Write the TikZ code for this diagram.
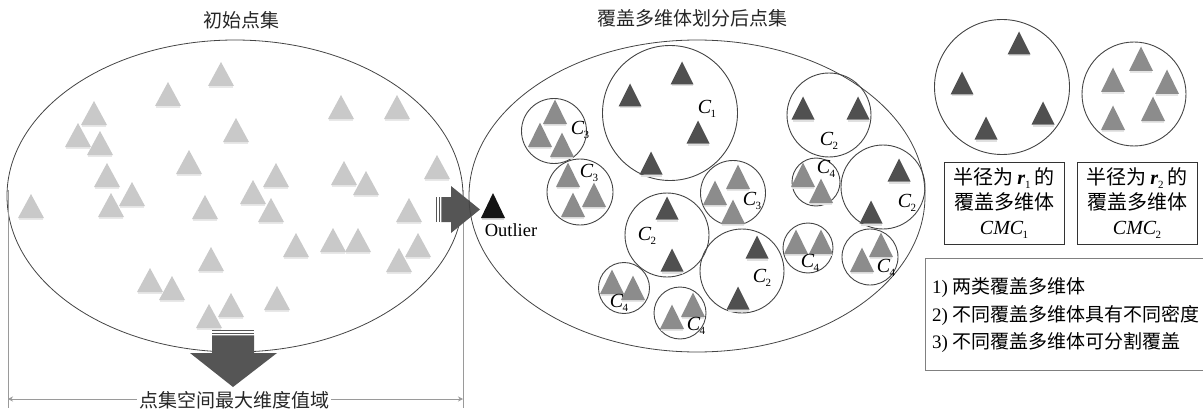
\documentclass[tikz,border=0pt]{standalone}
\usepackage{fontspec}
\setmainfont{Liberation Serif}
\newfontfamily\cjk{Noto Sans CJK SC}
\usetikzlibrary{shapes.geometric,arrows.meta}
\definecolor{ltgray}{HTML}{C9C9C9}
\definecolor{mdgray}{HTML}{8C8C8C}
\definecolor{dkgray}{HTML}{505050}
\definecolor{blockgray}{HTML}{555555}
\definecolor{rimgray}{HTML}{9A9A9A}
\definecolor{edgegray}{HTML}{444444}
\newcommand{\sbs}[1]{\raisebox{-0.4ex}{\fontsize{11}{11}\selectfont #1}}
\newcommand{\clab}[1]{\textit{C}\kern-1pt\sbs{#1}}

\tikzset{
  ltri/.pic={\fill[black!9] (-12,12) rectangle (12,14);
             \fill[ltgray] (-13,12) -- (0,-12) -- (13,12) -- cycle;},
  mtri/.pic={\fill[black!10] (-11,12) rectangle (11,14);
             \fill[mdgray] (-12,12) -- (0,-12.5) -- (12,12) -- cycle;},
  dtri/.pic={\fill[black!12] (-10.5,11.5) rectangle (10.5,13.5);
             \fill[dkgray] (-11.5,11.5) -- (0,-11.5) -- (11.5,11.5) -- cycle;},
  btri/.pic={\fill[black!15] (-11,12.5) rectangle (11,14);
             \fill[black!92] (-12,12.5) -- (0,-12.5) -- (12,12.5) -- cycle;},
  setrim/.style={draw=edgegray, line width=0.8pt, ellipse, inner sep=0pt,
                 minimum width=456pt, minimum height=312pt},
  cmc/.style={draw=edgegray, line width=0.9pt, circle, inner sep=0pt},
  clabel/.style={font=\fontsize{20}{20}\selectfont, inner sep=0pt},
  title/.style={font=\cjk\fontsize{19}{19}\selectfont, text=black!85},
  keybox/.style={draw=black!80, line width=0.8pt, minimum width=120pt,
                 minimum height=82pt, align=center, inner sep=0pt,
                 font=\fontsize{20}{25}\selectfont},
  noteline/.style={anchor=west, inner sep=0pt, font=\fontsize{19}{19}\selectfont},
  dimtip/.tip={Stealth[length=5pt,width=5pt]},
}

\begin{document}
\begin{tikzpicture}[x=1pt,y=-1pt]
\useasboundingbox (0,0) rectangle (1203,412);

% ---------- initial point set ----------
\node[title] (t1) at (241,20) {初始点集};
\node[setrim] (lset) at (235,196) {};
\foreach \px/\py in {221/74,168/94,94/113,78/135,100/143,236/130,189/162,
  107/175,132/194,111/205,31/206,205/207,253/192,276/175,271/210,341/107,
  397/107,344/173,366/183,437/167,409/210,296/245,333/240,358/240,418/245,
  399/260,211/259,150/280,172/288,231/305,209/316,277/298}
  \pic at (\px,\py) {ltri};

% ---------- span of the space ----------
\coordinate (dl) at (8,190);
\coordinate (dr) at (463,190);
\coordinate (dlb) at (8,408);
\coordinate (drb) at (463,408);
\coordinate (al) at (8,399);
\coordinate (ar) at (463,399);
\draw[rimgray, line width=0.8pt] (dl) -- (dlb) (dr) -- (drb);
\draw[rimgray, line width=0.8pt, dimtip-dimtip] (al) -- (ar);
\node[title, fill=white, inner sep=2pt] (span) at (234,400) {点集空间最大维度值域};

% block arrow pointing down
\fill[blockgray] (212,330) rectangle (254,331.3);
\fill[blockgray] (212,332.6) rectangle (254,334);
\fill[blockgray] (212,335.3) -- (254,335.3) -- (254,353) -- (277,353)
   -- (233,387) -- (190,353) -- (212,353) -- cycle;

% block arrow pointing right
\fill[blockgray] (436,197) rectangle (437.3,222);
\fill[blockgray] (438.6,197) rectangle (440,222);
\fill[blockgray] (441.3,197) -- (451,197) -- (451,186) -- (480,209.5)
   -- (451,233) -- (451,222) -- (441.3,222) -- cycle;

% ---------- partitioned point set ----------
\node[title] (t2) at (692,18) {覆盖多维体划分后点集};
\node[setrim] (rset) at (697,196) {};
\pic at (493,205.5) {btri};
\node[font=\fontsize{18.5}{18.5}\selectfont, inner sep=0pt] (out) at (511,230) {Outlier};

\node[cmc, minimum size=65pt] (a1) at (554,131) {};
\node[cmc, minimum size=66pt] (a2) at (580,192) {};
\node[cmc, minimum size=135pt] (b1) at (670,113) {};
\node[cmc, minimum size=84pt] (b2) at (829,115) {};
\node[cmc, minimum size=48pt] (a3) at (816,182) {};
\node[cmc, minimum size=84pt] (b3) at (883,187) {};
\node[cmc, minimum size=65pt] (a4) at (733,193) {};
\node[cmc, minimum size=84pt] (b4) at (667,235) {};
\node[cmc, minimum size=84pt] (b5) at (742,271) {};
\node[cmc, minimum size=50pt] (a5) at (808,248) {};
\node[cmc, minimum size=56pt] (a6) at (870,257) {};
\node[cmc, minimum size=51pt] (a7) at (624,288) {};
\node[cmc, minimum size=52pt] (a8) at (680,313) {};

\foreach \px/\py in {630/95,682/73,698/132,651/163,803/108,858/108,
  899/170,871/212,667/208,672/260,757/247,738/298}
  \pic at (\px,\py) {dtri};
\foreach \px/\py in {555/112,540/135,562/145,568/175,594/195,573/205,
  738/177,715/193,733/212,803/175,821/191,796/242,821/242,862/260,881/245,
  612/282,633/288,693/305,672/317}
  \pic at (\px,\py) {mtri};

\node[clabel] (l1) at (707,109) {\clab{1}};
\node[clabel] (l2) at (580,130) {\clab{3}};
\node[clabel] (l3) at (589,173) {\clab{3}};
\node[clabel] (l4) at (829,141) {\clab{2}};
\node[clabel] (l5) at (826,169) {\clab{4}};
\node[clabel] (l6) at (907,203) {\clab{2}};
\node[clabel] (l7) at (752,201) {\clab{3}};
\node[clabel] (l8) at (647,236) {\clab{2}};
\node[clabel] (l9) at (762,278) {\clab{2}};
\node[clabel] (l10) at (810,263) {\clab{4}};
\node[clabel] (l11) at (886,268) {\clab{4}};
\node[clabel] (l12) at (619,303) {\clab{4}};
\node[clabel] (l13) at (696,326) {\clab{4}};

% ---------- legend ----------
\node[cmc, minimum size=135pt] (k1) at (1002,87) {};
\node[cmc, minimum size=104pt] (k2) at (1134,94) {};
\foreach \px/\py in {1019/43,962/83,1043/113,986/128}
  \pic at (\px,\py) {dtri};
\foreach \px/\py in {1141/59,1113/80,1167/82,1153/109,1113/118}
  \pic at (\px,\py) {mtri};

\node[keybox] (kb1) at (1004,203)
  {{\cjk 半径为}\,\textbf{\textit{r}}\sbs{1}\,{\cjk 的}\\{\cjk 覆盖多维体}\\\textit{CMC}\kern-1pt\sbs{1}};
\node[keybox] (kb2) at (1137,203)
  {{\cjk 半径为}\,\textbf{\textit{r}}\sbs{2}\,{\cjk 的}\\{\cjk 覆盖多维体}\\\textit{CMC}\kern-1pt\sbs{2}};

\node[draw=black!50, line width=0.8pt, minimum width=290pt, minimum height=112pt,
      inner sep=0pt] (notes) at (1070,314) {};
\node[noteline] (n1) at (932,288) {1) {\cjk 两类覆盖多维体}};
\node[noteline] (n2) at (932,315) {2) {\cjk 不同覆盖多维体具有不同密度}};
\node[noteline] (n3) at (932,342) {3) {\cjk 不同覆盖多维体可分割覆盖}};
\end{tikzpicture}
\end{document}
